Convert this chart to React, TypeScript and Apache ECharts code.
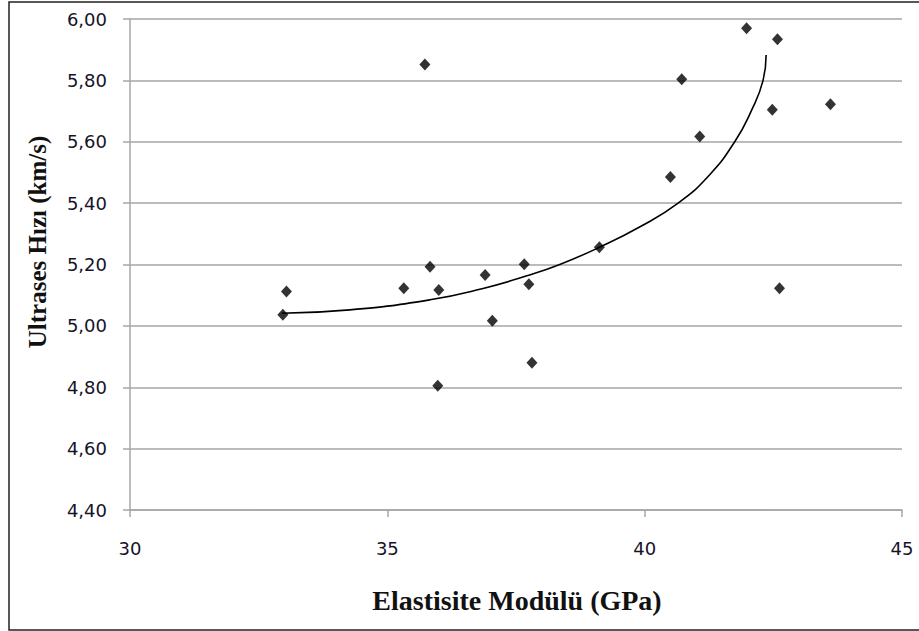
import React, { useEffect, useRef } from "react";
import * as echarts from "echarts";

// Measured points: Elastisite Modülü (GPa) vs Ultrases Hızı (km/s)
const modulus = [
  32.97, 33.04, 35.32, 35.83, 36.0, 35.98, 36.9, 37.04, 37.66, 37.75, 37.81,
  39.12, 40.5, 41.07, 40.72, 41.98, 42.58, 42.48, 43.61, 42.62, 35.73,
];
const velocity = [
  5.036, 5.112, 5.123, 5.193, 5.117, 4.805, 5.166, 5.017, 5.201, 5.136, 4.88,
  5.256, 5.485, 5.617, 5.804, 5.97, 5.934, 5.704, 5.722, 5.123, 5.852,
];

// Trend curve
const trendX = [
  32.95, 34.27, 35.83, 36.86, 37.71, 38.35, 39.12, 39.91, 40.65, 41.25, 41.75,
  42.07, 42.3, 42.36,
];
const trendY = [
  5.041, 5.052, 5.085, 5.122, 5.163, 5.2, 5.256, 5.323, 5.4, 5.49, 5.6, 5.7,
  5.8, 5.883,
];

const xTicks = [30, 35, 40, 45];
const yMin = 4.4;
const yMax = 6.0;
const yStep = 0.2;

const xTitle = "Elastisite Modülü (GPa)";
const yTitle = "Ultrases Hızı (km/s)";

export default function App() {
  const ref = useRef<HTMLDivElement>(null);

  useEffect(() => {
    if (!ref.current) return;
    const chart = echarts.init(ref.current, undefined, { renderer: "svg" });
    const points = modulus.map((x, i) => [x, velocity[i]]);
    const trend = trendX.map((x, i) => [x, trendY[i]]);
    const gray = "#a6a6a6";
    chart.setOption({
      animation: false,
      backgroundColor: "#ffffff",
      grid: { left: 130, right: 17, top: 19, bottom: 121, containLabel: false },
      xAxis: {
        type: "value",
        min: xTicks[0],
        max: xTicks[xTicks.length - 1],
        interval: 5,
        axisLine: { show: true, lineStyle: { color: gray, width: 1.5 } },
        axisTick: { show: true, length: 7, inside: false, lineStyle: { color: gray, width: 1.5 } },
        splitLine: { show: false },
        axisLabel: {
          margin: 29,
          color: "#141428",
          fontFamily: "DejaVu Sans",
          fontSize: 18,
        },
      },
      yAxis: {
        type: "value",
        min: yMin,
        max: yMax,
        interval: yStep,
        axisLine: { show: true, lineStyle: { color: gray, width: 1.5 } },
        axisTick: { show: true, length: 7, inside: false, lineStyle: { color: gray, width: 1.5 } },
        splitLine: { show: true, lineStyle: { color: gray, width: 1.5 } },
        axisLabel: {
          margin: 23,
          color: "#141428",
          fontFamily: "DejaVu Sans",
          fontSize: 18,
          formatter: (v: number) => v.toFixed(2).replace(".", ","),
        },
      },
      graphic: [
        {
          type: "rect",
          shape: { x: 9, y: 2, width: 925, height: 628 },
          style: { fill: "none", stroke: "#222222", lineWidth: 1.5 },
          silent: true,
          z: 0,
        },
        {
          type: "text",
          x: 517,
          y: 600,
          style: {
            text: xTitle,
            font: "bold 28px 'Liberation Serif'",
            fill: "#111111",
            align: "center",
            verticalAlign: "middle",
          },
        },
        {
          type: "text",
          x: 37,
          y: 242,
          rotation: Math.PI / 2,
          style: {
            text: yTitle,
            font: "bold 25px 'Liberation Serif'",
            fill: "#111111",
            align: "center",
            verticalAlign: "middle",
          },
        },
      ],
      series: [
        {
          type: "line",
          data: trend,
          showSymbol: false,
          smooth: 0.5,
          lineStyle: { color: "#000000", width: 1.6 },
          z: 2,
        },
        {
          type: "scatter",
          data: points,
          symbol: "diamond",
          symbolSize: [11, 12],
          itemStyle: { color: "#000000" },
          z: 3,
        },
      ],
    });
    return () => chart.dispose();
  }, []);

  return (
    <div
      ref={ref}
      style={{ position: "absolute", left: 0, top: 0, width: 919, height: 631 }}
    />
  );
}
